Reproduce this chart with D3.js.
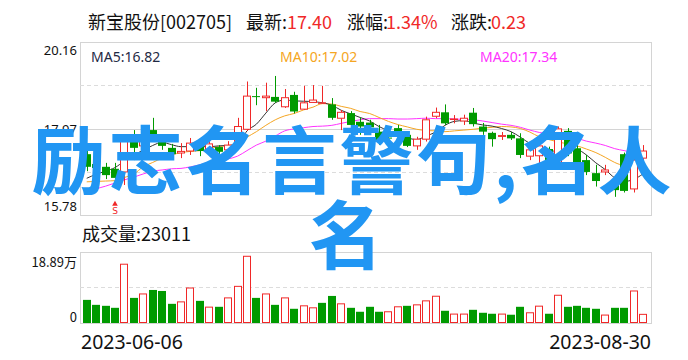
<!DOCTYPE html>
<html>
<head>
<meta charset="utf-8">
<script src="https://cdn.jsdelivr.net/npm/d3@7"></script>
<style>
  html, body { margin: 0; padding: 0; background: #fff; }
  svg { display: block; font-family: "Noto Sans CJK SC", "Noto Sans", sans-serif; }
</style>
</head>
<body>
<div id="chart"></div>
<script>
// header / labels
const stockName = '新宝股份[002705]';
const latestPrice = '17.40';
const pctChange = '1.34%';
const priceChange = '0.23';
const maLabels = ['MA5:16.82', 'MA10:17.02', 'MA20:17.34'];
const volumeLabel = '23011';
const priceTicks = [20.16, 17.97, 15.78];
const volTicks = ['18.89万', '0'];
const volMax = 18.89;
const dateLabels = ['2023-06-06', '2023-08-30'];
const watermark = ['励志名言警句,名人', '名'];
const signalIndex = 3; // the little red "S" marker

// daily data, 60 sessions
const prevClose = 17.10;
const open = [17.32,17.07,17.00,16.95,16.87,17.68,17.53,17.93,17.70,17.48,
  17.35,17.40,17.55,17.40,17.50,17.43,17.53,17.95,18.79,18.75,
  18.77,18.52,18.82,18.46,18.63,18.62,18.58,18.23,18.36,18.14,
  18.12,17.89,17.74,17.98,17.81,17.53,17.70,18.28,18.38,18.20,
  18.16,18.37,18.02,17.86,17.77,17.81,17.72,17.27,17.28,17.45,
  17.11,17.91,17.47,17.17,16.84,16.87,16.64,17.32,16.44,17.22];
const close = [17.00,16.97,16.79,16.72,17.65,17.48,17.75,17.73,17.53,17.32,
  17.39,17.60,17.40,17.58,17.38,17.55,18.02,18.79,18.78,18.79,
  18.65,18.75,18.40,18.62,18.69,18.62,18.24,18.38,18.06,18.02,
  18.00,17.66,17.72,17.76,17.53,17.70,18.19,18.38,18.10,18.21,
  18.23,18.08,17.89,17.70,17.79,17.72,17.30,17.43,17.53,17.15,
  17.96,17.34,17.11,16.87,16.64,16.92,16.41,16.39,17.17,17.40];
const high = [17.43,17.30,17.10,17.10,17.70,17.93,17.98,18.24,17.83,17.58,
  17.60,17.73,17.68,17.68,17.55,17.65,18.24,19.16,19.00,19.13,
  19.30,18.97,18.90,19.05,19.07,19.05,18.74,18.44,18.41,18.24,
  18.19,18.06,17.86,18.06,17.86,17.76,18.27,18.50,18.58,18.31,
  18.32,18.49,18.11,17.89,17.88,17.88,17.85,17.53,17.60,17.51,
  18.02,17.98,17.64,17.30,17.05,17.05,16.71,17.36,17.26,17.55];
const low = [16.89,16.84,16.69,16.59,16.54,17.17,17.43,17.63,17.43,17.22,
  17.22,17.30,17.27,17.30,17.30,17.30,17.50,17.91,18.56,18.41,
  18.62,18.49,18.35,18.44,18.62,18.60,18.19,17.93,18.01,17.81,
  17.93,17.55,17.64,17.68,17.50,17.43,17.64,18.23,18.06,18.10,
  18.06,18.02,17.81,17.51,17.68,17.68,17.22,17.17,17.03,17.09,
  17.00,17.27,17.00,16.79,16.50,16.79,16.24,16.35,16.35,17.06];
// volume in 万 shares
const volume = [6.15,4.83,4.57,4.04,15.64,6.68,7.73,8.79,8.52,5.10,
  5.62,9.31,5.89,4.22,4.31,6.68,9.75,17.75,6.68,7.73,
  4.83,6.68,3.78,4.57,4.04,5.36,7.20,5.10,4.04,2.99,
  4.31,2.99,2.99,4.31,4.57,4.83,5.89,7.12,3.25,2.37,
  2.37,3.51,2.72,2.46,2.37,2.20,4.31,2.72,4.48,2.46,
  7.38,4.31,4.57,4.04,3.78,2.11,4.04,4.04,8.52,2.30];
// moving averages as drawn
const ma5 = [16.71,16.81,16.89,16.98,17.15,17.30,17.42,17.54,17.62,17.56,
  17.51,17.51,17.51,17.51,17.53,17.54,17.55,17.91,18.08,18.36,
  18.62,18.69,18.67,18.66,18.65,18.62,18.56,18.43,18.34,18.25,
  18.16,18.02,17.91,17.79,17.73,17.69,17.78,17.88,18.05,18.15,
  18.17,18.11,18.06,18.03,17.97,17.89,17.75,17.59,17.48,17.39,
  17.41,17.43,17.43,17.30,17.10,16.93,16.72,16.63,16.68,16.82];
const ma10 = [16.62,16.63,16.64,16.65,16.73,16.82,17.00,17.11,17.22,17.30,
  17.36,17.39,17.41,17.46,17.51,17.54,17.58,17.75,17.89,18.05,
  18.19,18.29,18.35,18.44,18.51,18.60,18.59,18.53,18.48,18.40,
  18.35,18.25,18.15,18.07,18.01,17.95,17.92,17.91,17.89,17.91,
  17.93,17.95,17.98,18.00,18.02,18.01,17.97,17.88,17.76,17.69,
  17.63,17.58,17.53,17.45,17.36,17.24,17.11,17.03,17.01,17.02];
const ma20 = [16.33,16.44,16.51,16.59,16.67,16.74,16.82,16.89,16.92,16.95,
  16.96,17.00,17.05,17.12,17.16,17.20,17.27,17.41,17.55,17.65,
  17.78,17.91,17.96,17.99,18.02,18.03,18.05,18.10,18.15,18.19,
  18.22,18.22,18.22,18.21,18.21,18.22,18.23,18.22,18.22,18.21,
  18.20,18.19,18.16,18.12,18.08,18.05,18.00,17.93,17.87,17.83,
  17.79,17.75,17.72,17.65,17.60,17.54,17.46,17.41,17.36,17.34];

const RED = '#f02828', GREEN = '#009a00', GRID = '#d4d4d4';
const W = 688, H = 360;
const plot = { left: 80, right: 651, top: 42, bottom: 215 };
const vplot = { top: 252, bottom: 323 };

const svg = d3.select('#chart').append('svg')
  .attr('width', W).attr('height', H)
  .attr('viewBox', [0, 0, W, H].join(' '));

const x = d3.scaleBand()
  .domain(d3.range(open.length))
  .range([82.7, 647])
  .paddingInner(0.15);
const cx = i => x(i) + x.bandwidth() / 2;

const y = d3.scaleLinear()
  .domain([priceTicks[2], priceTicks[0]])
  .range([plot.bottom, plot.top]);
const yv = d3.scaleLinear()
  .domain([0, volMax])
  .range([vplot.bottom, vplot.top]);

// header line, pieces placed where the reference has them
const headParts = [
  [stockName, 88, '#111'], ['最新:', 246, '#111'], [latestPrice, 287, RED],
  ['涨幅:', 347, '#111'], [pctChange, 386, RED],
  ['涨跌:', 451, '#111'], [priceChange, 491, RED]
];
svg.append('g')
  .selectAll('text')
  .data(headParts)
  .enter().append('text')
    .attr('x', d => d[1]).attr('y', 21)
    .attr('dominant-baseline', 'central')
    .attr('font-size', 18).attr('fill', d => d[2])
    .text(d => d[0]);

// price panel frame + grid
const grid = svg.append('g');
grid.append('rect')
  .attr('x', plot.left + 0.5).attr('y', plot.top + 0.5)
  .attr('width', plot.right - plot.left).attr('height', plot.bottom - plot.top)
  .attr('fill', 'none').attr('stroke', GRID);
const quarter = d3.range(1, 4).map(k => plot.top + (plot.bottom - plot.top) * k / 4);
grid.selectAll('line.h')
  .data(quarter)
  .enter().append('line')
    .attr('x1', plot.left).attr('x2', plot.right)
    .attr('y1', d => Math.round(d) + 0.5).attr('y2', d => Math.round(d) + 0.5)
    .attr('stroke', (d, i) => i === 1 ? GRID : '#dcdcdc')
    .attr('stroke-dasharray', (d, i) => i === 1 ? null : '4,3');

svg.append('g')
  .selectAll('text')
  .data(priceTicks)
  .enter().append('text')
    .attr('x', 77)
    .attr('y', (d, i) => [50, 129, 206][i])
    .attr('text-anchor', 'end').attr('dominant-baseline', 'central')
    .attr('font-family', '"Noto Sans", sans-serif')
    .attr('font-size', 13).attr('fill', '#111')
    .text(d => d.toFixed(2));

// MA lines
const line = arr => d3.line()
  .x((d, i) => cx(i))
  .y(d => y(d))
  .curve(d3.curveMonotoneX)(arr);
[[ma20, '#ff33ff'], [ma10, '#f5a623'], [ma5, '#333']].forEach(([arr, c]) => {
  svg.append('path').attr('d', line(arr))
    .attr('fill', 'none').attr('stroke', c).attr('stroke-width', 1);
});

// candles
const bw = x.bandwidth();
const candles = svg.append('g')
  .selectAll('g')
  .data(open.map((o, i) => ({ i, o, c: close[i], h: high[i], l: low[i] })))
  .enter().append('g');
candles.each(function (d) {
  const g = d3.select(this);
  const up = d.c >= d.o;
  const col = up ? RED : GREEN;
  const xm = Math.round(cx(d.i)) + 0.5;
  const top = y(Math.max(d.o, d.c)), bot = y(Math.min(d.o, d.c));
  if (up) {
    g.append('line').attr('x1', xm).attr('x2', xm).attr('y1', y(d.h)).attr('y2', top).attr('stroke', col);
    g.append('line').attr('x1', xm).attr('x2', xm).attr('y1', bot).attr('y2', y(d.l)).attr('stroke', col);
    g.append('rect')
      .attr('x', Math.round(x(d.i)) + 0.5).attr('y', top)
      .attr('width', Math.round(bw) - 1).attr('height', Math.max(bot - top, 0.5))
      .attr('fill', '#fff').attr('stroke', col);
  } else {
    g.append('line').attr('x1', xm).attr('x2', xm).attr('y1', y(d.h)).attr('y2', y(d.l)).attr('stroke', col);
    g.append('rect')
      .attr('x', Math.round(x(d.i))).attr('y', top)
      .attr('width', Math.round(bw)).attr('height', Math.max(bot - top, 1))
      .attr('fill', col);
  }
});

// buy signal marker
const sx = cx(signalIndex);
svg.append('path')
  .attr('d', d3.symbol(d3.symbolTriangle, 14)())
  .attr('transform', `translate(${sx},${y(low[signalIndex]) + 21})`)
  .attr('fill', RED);
svg.append('text')
  .attr('x', sx).attr('y', y(low[signalIndex]) + 28)
  .attr('text-anchor', 'middle').attr('dominant-baseline', 'central')
  .attr('font-family', '"DejaVu Sans", sans-serif')
  .attr('font-size', 9).attr('fill', RED)
  .text('S');

// MA legend
svg.selectAll('text.ma')
  .data(maLabels)
  .enter().append('text')
    .attr('class', 'ma')
    .attr('x', (d, i) => [91, 280, 480][i]).attr('y', 56)
    .attr('dominant-baseline', 'central')
    .attr('font-family', '"Noto Sans", sans-serif')
    .attr('font-size', 14)
    .attr('fill', (d, i) => ['#1f2a44', '#f5a623', '#ff33ff'][i])
    .text(d => d);

// volume panel
svg.append('text')
  .attr('x', 82).attr('y', 233)
  .attr('dominant-baseline', 'central')
  .attr('font-size', 18).attr('fill', '#111')
  .text('成交量:' + volumeLabel);

svg.append('rect')
  .attr('x', plot.left + 0.5).attr('y', vplot.top + 0.5)
  .attr('width', plot.right - plot.left).attr('height', vplot.bottom - vplot.top)
  .attr('fill', 'none').attr('stroke', GRID);
svg.append('line')
  .attr('x1', plot.left).attr('x2', plot.right)
  .attr('y1', 287.5).attr('y2', 287.5)
  .attr('stroke', '#dcdcdc').attr('stroke-dasharray', '4,3');

svg.append('g')
  .selectAll('text')
  .data(volTicks)
  .enter().append('text')
    .attr('x', 77).attr('y', (d, i) => i === 0 ? 261 : 316)
    .attr('text-anchor', 'end').attr('dominant-baseline', 'central')
    .attr('font-size', 13).attr('fill', '#111')
    .text(d => d);

svg.append('g')
  .selectAll('rect')
  .data(volume)
  .enter().append('rect')
    .each(function (v, i) {
      const up = close[i] >= (i === 0 ? prevClose : close[i - 1]);
      const r = d3.select(this);
      if (up) {
        r.attr('x', Math.round(x(i)) + 0.5).attr('y', yv(v))
          .attr('width', Math.round(bw) - 1).attr('height', yv(0) - yv(v) - 0.5)
          .attr('fill', '#fff').attr('stroke', RED);
      } else {
        r.attr('x', Math.round(x(i))).attr('y', yv(v))
          .attr('width', Math.round(bw)).attr('height', yv(0) - yv(v))
          .attr('fill', GREEN);
      }
    });

// dates
svg.selectAll('text.date')
  .data(dateLabels)
  .enter().append('text')
    .attr('class', 'date')
    .attr('x', (d, i) => i === 0 ? 81 : plot.right)
    .attr('y', 341)
    .attr('text-anchor', (d, i) => i === 0 ? 'start' : 'end')
    .attr('dominant-baseline', 'central')
    .attr('font-family', '"Noto Sans", sans-serif')
    .attr('font-size', 19.5).attr('fill', '#111')
    .text(d => d);

// big blue overlay text
svg.append('g')
  .selectAll('text')
  .data(watermark)
  .enter().append('text')
    .attr('x', (d, i) => i === 0 ? 353 : 346)
    .attr('y', (d, i) => i === 0 ? 155 : 230)
    .attr('text-anchor', 'middle').attr('dominant-baseline', 'central')
    .attr('font-size', 74).attr('font-weight', 'bold')
    .attr('letter-spacing', (d, i) => i === 0 ? 3 : 0)
    .attr('fill', '#2196f3')
    .text(d => d);
</script>
</body>
</html>
